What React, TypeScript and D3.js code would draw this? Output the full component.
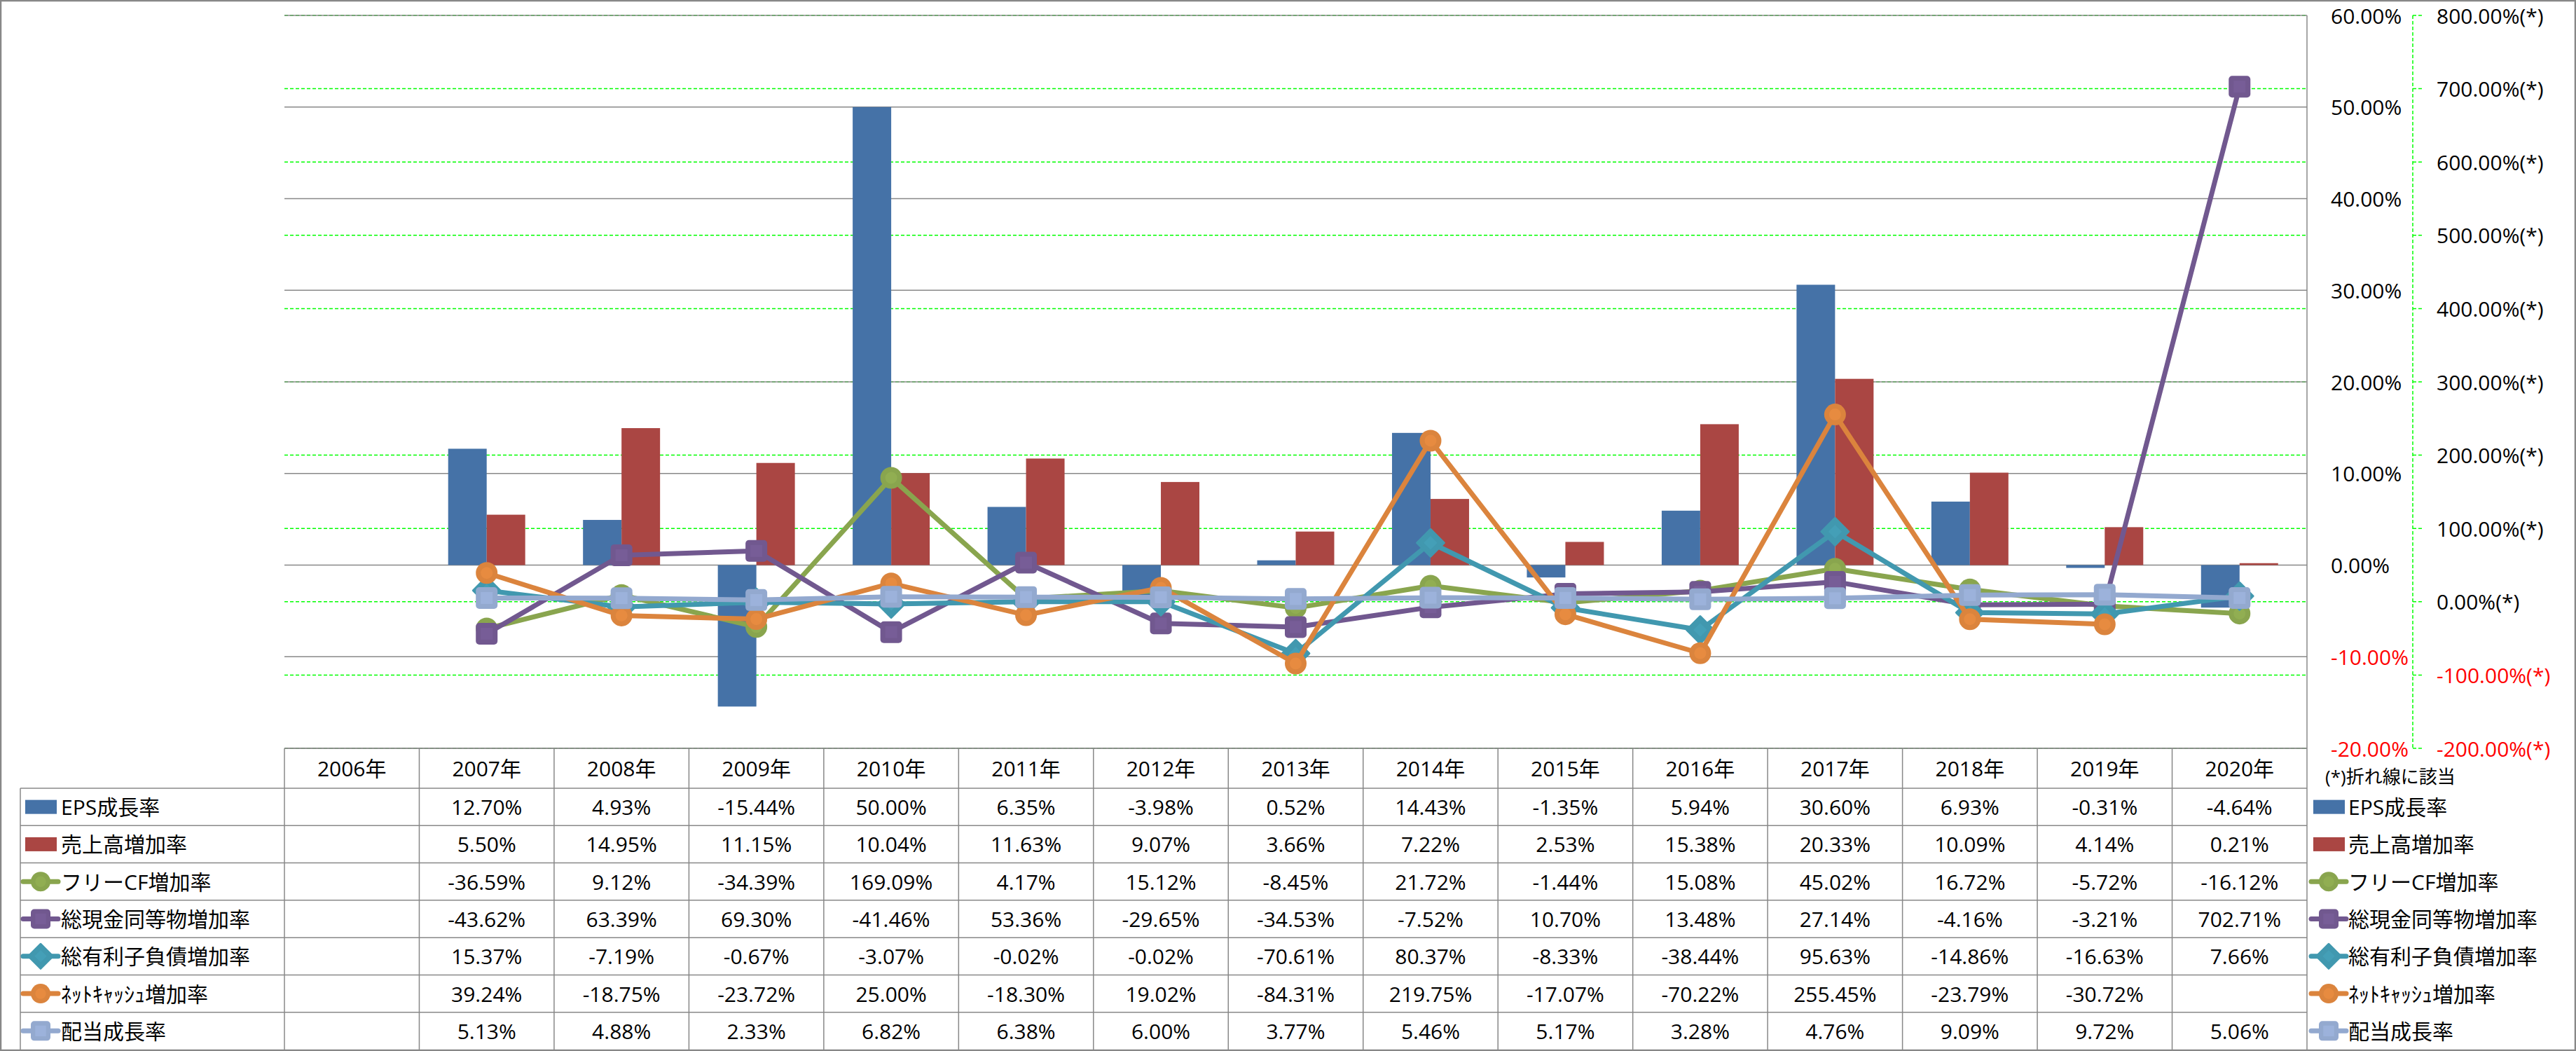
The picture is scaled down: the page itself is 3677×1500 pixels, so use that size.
import React from 'react';
import * as d3 from 'd3';

const years = ['2006年','2007年','2008年','2009年','2010年','2011年','2012年','2013年','2014年','2015年','2016年','2017年','2018年','2019年','2020年'];

const epsGrowth: (number | null)[] = [null, 12.70, 4.93, -15.44, 50.00, 6.35, -3.98, 0.52, 14.43, -1.35, 5.94, 30.60, 6.93, -0.31, -4.64];
const salesGrowth: (number | null)[] = [null, 5.50, 14.95, 11.15, 10.04, 11.63, 9.07, 3.66, 7.22, 2.53, 15.38, 20.33, 10.09, 4.14, 0.21];
const freeCfGrowth: (number | null)[] = [null, -36.59, 9.12, -34.39, 169.09, 4.17, 15.12, -8.45, 21.72, -1.44, 15.08, 45.02, 16.72, -5.72, -16.12];
const cashGrowth: (number | null)[] = [null, -43.62, 63.39, 69.30, -41.46, 53.36, -29.65, -34.53, -7.52, 10.70, 13.48, 27.14, -4.16, -3.21, 702.71];
const debtGrowth: (number | null)[] = [null, 15.37, -7.19, -0.67, -3.07, -0.02, -0.02, -70.61, 80.37, -8.33, -38.44, 95.63, -14.86, -16.63, 7.66];
const netCashGrowth: (number | null)[] = [null, 39.24, -18.75, -23.72, 25.00, -18.30, 19.02, -84.31, 219.75, -17.07, -70.22, 255.45, -23.79, -30.72, null];
const dividendGrowth: (number | null)[] = [null, 5.13, 4.88, 2.33, 6.82, 6.38, 6.00, 3.77, 5.46, 5.17, 3.28, 4.76, 9.09, 9.72, 5.06];

const primaryTicks = [-20, -10, 0, 10, 20, 30, 40, 50, 60];
const secondaryTicks = [-200, -100, 0, 100, 200, 300, 400, 500, 600, 700, 800];

const barSeries = [
  { name: 'EPS成長率', values: epsGrowth, color: '#4572A7' },
  { name: '売上高増加率', values: salesGrowth, color: '#AA4643' },
];
const lineSeries = [
  { name: 'フリーCF増加率', values: freeCfGrowth, color: '#89A54E', marker: 'circle' },
  { name: '総現金同等物増加率', values: cashGrowth, color: '#71588F', marker: 'square' },
  { name: '総有利子負債増加率', values: debtGrowth, color: '#4198AF', marker: 'diamond' },
  { name: 'ﾈｯﾄｷｬｯｼｭ増加率', values: netCashGrowth, color: '#DB843D', marker: 'circle' },
  { name: '配当成長率', values: dividendGrowth, color: '#93A9CF', marker: 'square' },
];
const footnote = '(*)折れ線に該当';

const W = 3677, H = 1500;
const plotLeft = 406, plotRight = 3293, plotTop = 22, plotBottom = 1068;
const headerBottom = 1125, tableBottom = 1498, labelLeft = 29;
const FONT = "'Open Sans', 'Noto Sans CJK JP', sans-serif";

function Marker({ type, x, y, color, size }: { type: string; x: number; y: number; color: string; size: number }) {
  const light = d3.color(color)!.brighter(0.25).formatHex();
  const s = size / 2;
  if (type === 'circle') {
    return (
      <g>
        <ellipse cx={x} cy={y} rx={s} ry={s} fill={color} />
        <ellipse cx={x} cy={y} rx={s * 0.55} ry={s * 0.55} fill={light} opacity={0.6} />
      </g>
    );
  }
  if (type === 'square') {
    return (
      <g>
        <rect x={x - s} y={y - s} width={size} height={size} rx={5} fill={color} />
        <rect x={x - s * 0.55} y={y - s * 0.55} width={size * 0.55} height={size * 0.55} fill={light} opacity={0.6} />
      </g>
    );
  }
  const d = s * 1.25;
  return (
    <g>
      <path d={`M${x},${y - d}L${x + d},${y}L${x},${y + d}L${x - d},${y}Z`} fill={color} stroke={color} strokeWidth={3} strokeLinejoin="round" />
      <path d={`M${x},${y - d * 0.5}L${x + d * 0.5},${y}L${x},${y + d * 0.5}L${x - d * 0.5},${y}Z`} fill={light} opacity={0.5} />
    </g>
  );
}

const pct = (v: number) => v.toFixed(2) + '%';
const fmt = (v: number | null) => (v == null ? '' : pct(v));

export default function App() {
  const x = d3.scaleBand<string>().domain(years).range([plotLeft, plotRight]).padding(0);
  const bw = x.bandwidth();
  const gap = bw * 0.2143;
  const xBar = d3.scaleBand<string>().domain(barSeries.map(s => s.name)).range([gap, bw - gap]).padding(0);
  const yP = d3.scaleLinear().domain([-20, 60]).range([plotBottom, plotTop]);
  const yS = d3.scaleLinear().domain([-200, 800]).range([plotBottom, plotTop]);
  const cx = (i: number) => (x(years[i]) as number) + bw / 2;

  const rowNames = [...barSeries.map(s => s.name), ...lineSeries.map(s => s.name)];
  const rowValues = [...barSeries.map(s => s.values), ...lineSeries.map(s => s.values)];
  const rowH = (tableBottom - headerBottom) / rowNames.length;
  const gray = '#888888';

  const legendIcon = (i: number, x0: number) => {
    const yc = headerBottom + rowH * i + rowH / 2;
    if (i < barSeries.length) {
      return <rect x={x0 + 3} y={yc - 10} width={45} height={20} fill={barSeries[i].color} />;
    }
    const ls = lineSeries[i - barSeries.length];
    return (
      <g>
        <line x1={x0} x2={x0 + 50} y1={yc} y2={yc} stroke={ls.color} strokeWidth={7} strokeLinecap="round" />
        <Marker type={ls.marker} x={x0 + 25} y={yc} color={ls.color} size={28} />
      </g>
    );
  };

  return (
    <svg width={W} height={H} style={{ position: 'absolute', left: 0, top: 0, background: '#fff' }} fontFamily={FONT}>
      <rect x={0} y={0} width={W} height={H} fill="#fff" />
      {secondaryTicks.map(t => (
        <line key={'sg' + t} x1={plotLeft} x2={plotRight} y1={yS(t)} y2={yS(t)} stroke="#00FF00" strokeWidth={1.5} strokeDasharray="5,3" />
      ))}
      {primaryTicks.map(t => (
        <line key={'pg' + t} x1={plotLeft} x2={plotRight} y1={yP(t)} y2={yP(t)} stroke={gray} strokeWidth={1.5} />
      ))}
      <line x1={plotRight} x2={plotRight} y1={plotTop} y2={plotBottom} stroke={gray} strokeWidth={1.5} />
      {barSeries.map(s => (
        <g key={s.name}>
          {s.values.map((v, i) => v == null ? null : (
            <rect key={i} x={(x(years[i]) as number) + (xBar(s.name) as number)} width={xBar.bandwidth()}
              y={Math.min(yP(v), yP(0))} height={Math.abs(yP(v) - yP(0))} fill={s.color} />
          ))}
        </g>
      ))}
      {lineSeries.map(s => {
        const line = d3.line<number | null>().defined(d => d != null).x((d, i) => cx(i)).y(d => yS(d as number));
        return (
          <g key={s.name}>
            <path d={line(s.values) || ''} fill="none" stroke={s.color} strokeWidth={7} strokeLinejoin="round" strokeLinecap="round" />
            {s.values.map((v, i) => v == null ? null : (
              <Marker key={i} type={s.marker} x={cx(i)} y={yS(v)} color={s.color} size={31} />
            ))}
          </g>
        );
      })}
      {primaryTicks.map(t => (
        <text key={'pl' + t} x={3327} y={yP(t)} dominantBaseline="central" fontSize={30} fill={t < 0 ? '#FF0000' : '#000'}>
          {pct(t)}
        </text>
      ))}
      <line x1={3444} x2={3444} y1={plotTop} y2={plotBottom} stroke="#00FF00" strokeWidth={1.5} strokeDasharray="5,3" />
      {secondaryTicks.map(t => (
        <g key={'sl' + t}>
          <line x1={3444} x2={3457} y1={yS(t)} y2={yS(t)} stroke="#00FF00" strokeWidth={1.5} strokeDasharray="5,3" />
          <text x={3478} y={yS(t)} dominantBaseline="central" fontSize={30} fill={t < 0 ? '#FF0000' : '#000'}>
            {pct(t) + '(*)'}
          </text>
        </g>
      ))}
      <text x={3319} y={1108} dominantBaseline="central" fontSize={26} fill="#000">{footnote}</text>

      <line x1={plotLeft} x2={plotRight} y1={plotBottom} y2={plotBottom} stroke={gray} strokeWidth={1.5} />
      {rowNames.map((n, i) => (
        <line key={'hl' + i} x1={labelLeft} x2={plotRight} y1={headerBottom + rowH * i} y2={headerBottom + rowH * i} stroke={gray} strokeWidth={1.5} />
      ))}
      <line x1={labelLeft} x2={labelLeft} y1={headerBottom} y2={tableBottom} stroke={gray} strokeWidth={1.5} />
      {years.map((yr, i) => (
        <line key={'vl' + i} x1={x(yr) as number} x2={x(yr) as number} y1={plotBottom} y2={tableBottom} stroke={gray} strokeWidth={1.5} />
      ))}
      <line x1={plotRight} x2={plotRight} y1={plotBottom} y2={tableBottom} stroke={gray} strokeWidth={1.5} />
      {years.map((yr, i) => (
        <text key={'yr' + i} x={cx(i)} y={(plotBottom + headerBottom) / 2} textAnchor="middle" dominantBaseline="central" fontSize={30}>{yr}</text>
      ))}
      {rowNames.map((n, r) => (
        <g key={'row' + r}>
          {legendIcon(r, 33)}
          <text x={87} y={headerBottom + rowH * r + rowH / 2} dominantBaseline="central" fontSize={30}>{n}</text>
          {rowValues[r].map((v, i) => (
            <text key={i} x={cx(i)} y={headerBottom + rowH * r + rowH / 2} textAnchor="middle" dominantBaseline="central" fontSize={30}>{fmt(v)}</text>
          ))}
          {legendIcon(r, 3299)}
          <text x={3352} y={headerBottom + rowH * r + rowH / 2} dominantBaseline="central" fontSize={30}>{n}</text>
        </g>
      ))}
      <rect x={1} y={1} width={W - 2} height={H - 2} fill="none" stroke={gray} strokeWidth={2.5} />
    </svg>
  );
}
